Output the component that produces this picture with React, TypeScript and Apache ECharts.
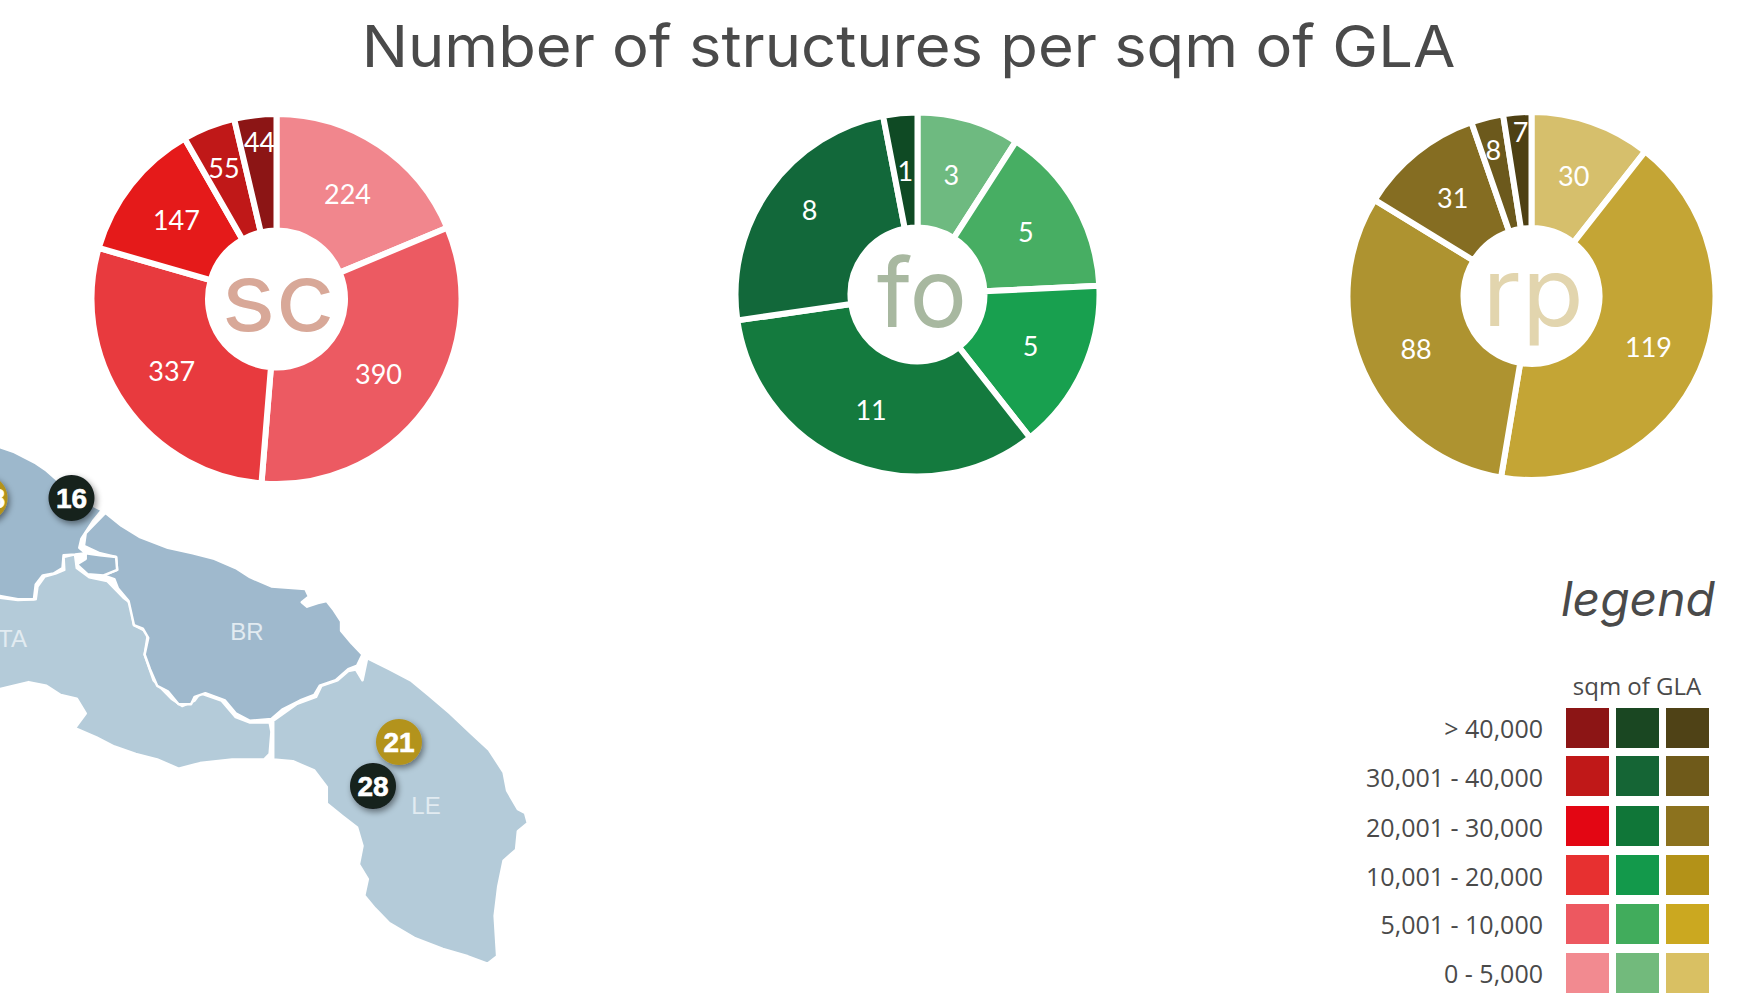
import React, { useEffect, useRef } from "react";
import * as echarts from "echarts";

const titleText = "Number of structures per sqm of GLA";
const scNames = ["0 - 5,000", "5,001 - 10,000", "10,001 - 20,000", "20,001 - 30,000", "30,001 - 40,000", "> 40,000"];
const scValues = [224, 390, 337, 147, 55, 44];
const foValues = [3, 5, 5, 11, 8, 1];
const rpValues = [30, 119, 88, 31, 8, 7];
const scColors = ["#f1868d", "#ec5a62", "#e83a3e", "#e51a1a", "#c01818", "#8c1515"];
const foColors = ["#6eba80", "#47ae63", "#18a04f", "#147a3e", "#12683a", "#0f4a24"];
const rpColors = ["#d6bf6c", "#c4a535", "#ae9330", "#856d22", "#6c591c", "#4e4013"];
const legendRed = ["#8c1515", "#c01818", "#e30613", "#e73030", "#ed5860", "#f28a90"];
const legendGreen = ["#1a4722", "#156535", "#107638", "#13994b", "#41ac5c", "#72ba7c"];
const legendGold = ["#4f4216", "#6f5a1a", "#8c721e", "#b39218", "#cba820", "#d9c063"];
const legendLabels = ["> 40,000", "30,001 - 40,000", "20,001 - 30,000", "10,001 - 20,000", "5,001 - 10,000", "0 - 5,000"];

const scOffsets = [[-1, 2], [-3, -2], [2, -2], [2, 1], [-5, -11], [-2, -29]];
const foOffsets = [[-2, 2], [-2, 1], [-3, -2], [1, -3], [-4, -11], [0, 3]];
const rpOffsets = [[0, 1], [-1, -2], [2, -1], [2, 2], [-7, -21], [-1, -36]];

const BA = [[-5,45],[40,60],[70,75],[100,90],[130,110],[165,140],[200,170],[240,195],[285,218],[262,245],[245,270],[228,295],[222,320],[240,335],[210,338],[178,340],[175,375],[150,390],[120,395],[100,420],[95,460],[50,460],[-5,450]];
const BT = [[240,335],[280,340],[325,345],[328,380],[290,395],[245,392],[215,365],[240,350]];
const BR = [[295,225],[340,260],[390,290],[470,320],[540,335],[600,350],[660,375],[700,400],[760,425],[855,432],[865,452],[845,468],[860,480],[890,470],[915,465],[935,490],[955,520],[955,545],[985,580],[1015,610],[1000,640],[975,650],[940,680],[895,695],[880,720],[840,735],[790,760],[760,785],[700,790],[660,770],[630,735],[575,715],[545,725],[535,745],[500,745],[470,710],[440,695],[420,650],[405,610],[415,565],[400,540],[375,530],[360,465],[330,430],[320,405],[290,395],[328,380],[325,345],[280,335],[235,315],[240,280],[265,255]];
const TA = [[-5,455],[50,462],[100,460],[105,425],[125,398],[155,390],[180,380],[178,345],[210,338],[215,375],[250,400],[300,410],[345,455],[365,470],[375,530],[415,550],[405,610],[430,680],[480,730],[510,750],[545,735],[560,715],[620,735],[660,780],[700,795],[755,795],[760,820],[755,880],[740,895],[650,895],[560,905],[500,920],[440,895],[380,880],[320,860],[270,835],[210,810],[240,770],[215,730],[170,720],[130,695],[80,685],[-5,705]];
const LE = [[1028,620],[1090,650],[1150,680],[1200,720],[1260,770],[1320,825],[1370,870],[1410,930],[1420,980],[1450,1030],[1470,1040],[1478,1068],[1450,1090],[1445,1140],[1410,1170],[1395,1240],[1385,1320],[1392,1430],[1365,1450],[1310,1430],[1240,1410],[1160,1380],[1090,1340],[1050,1300],[1020,1265],[1030,1220],[1005,1180],[1015,1130],[1000,1080],[960,1050],[915,1015],[915,970],[880,925],[820,900],[765,895],[765,790],[830,745],[885,725],[900,695],[945,680],[975,655],[1000,650],[990,640],[1015,680]];

const toPx = (pts: number[][]) => pts.map(([x, y]) => [x / 2.8, 430 + y / 2.717]);

const pie = (name: string, cx: number, cy: number, r0: number, r: number, values: number[], colors: string[], offsets: number[][]) => ({
  type: "pie",
  name,
  silent: true,
  clockwise: true,
  startAngle: 90,
  center: [cx, cy],
  radius: [r0, r],
  avoidLabelOverlap: false,
  labelLine: { show: false },
  itemStyle: { borderColor: "#ffffff", borderWidth: 6 },
  label: { show: true, position: "inside", formatter: "{c}", color: "#ffffff", fontFamily: "Lato", fontSize: 27 },
  data: values.map((v, i) => ({
    value: v,
    name: scNames[i],
    itemStyle: { color: colors[i] },
    label: { offset: offsets[i] },
  })),
});

const txt = (text: string, x: number, y: number, font: any, extra: any = {}) => ({
  type: "text",
  x,
  y,
  z: 6,
  ...extra,
  style: { text, verticalAlign: "middle", ...font },
});

export default function App() {
  const ref = useRef<HTMLDivElement>(null);
  useEffect(() => {
    document.body.style.margin = "0";
    const chart = echarts.init(ref.current!, undefined, { renderer: "svg" });
    const region = (pts: number[][], fill: string) => ({
      type: "polygon",
      shape: { points: toPx(pts) },
      style: { fill, stroke: "#ffffff", lineWidth: 2.5, lineJoin: "round" },
      z: 1,
    });
    const markerFont = "bold 28px 'Liberation Sans'";
    const marker = (cx: number, cy: number, fill: string, label: string, labelX = cx, align = "center") => ({
      type: "group",
      children: [
        { type: "circle", z: 3, shape: { cx, cy, r: 23 }, style: { fill, shadowBlur: 6, shadowColor: "rgba(0,0,0,0.45)", shadowOffsetX: 2, shadowOffsetY: 3 } },
        { type: "text", z: 4, x: labelX, y: cy, style: { text: label, align, verticalAlign: "middle", fill: "#ffffff", stroke: "#ffffff", lineWidth: 0.6, font: markerFont } },
      ],
    });
    const swatches: any[] = [];
    const colXs = [1566, 1616, 1666];
    const rowYs = [708, 756, 806, 855, 904, 953];
    [legendRed, legendGreen, legendGold].forEach((col, c) =>
      col.forEach((fill, r) =>
        swatches.push({ type: "rect", z: 2, shape: { x: colXs[c], y: rowYs[r], width: 43, height: 40 }, style: { fill } })
      )
    );
    const centreFont = "400 96px Inter";
    const mapText = "#e2ebf1";
    chart.setOption({
      animation: false,
      backgroundColor: "#ffffff",
      series: [
        pie("sc", 276.5, 299, 68.5, 185, scValues, scColors, scOffsets),
        pie("fo", 917.5, 294.5, 67, 182, foValues, foColors, foOffsets),
        pie("rp", 1531.5, 296, 68, 184, rpValues, rpColors, rpOffsets),
      ],
      graphic: [
        txt(titleText, 908.5, 46, { align: "center", fill: "#4a4a4a", font: "400 58px Inter" }, { scaleX: 1.06 }),
        region(TA, "#b4cbd9"),
        region(LE, "#b4cbd9"),
        region(BA, "#9db8cc"),
        region(BR, "#9fb9cd"),
        region(BT, "#9db8cc"),
        txt("TA", 27, 638, { align: "right", fill: mapText, font: "24px 'Liberation Sans'" }),
        txt("BR", 247, 631, { align: "center", fill: mapText, font: "24px 'Liberation Sans'" }),
        txt("LE", 426, 805, { align: "center", fill: mapText, font: "24px 'Liberation Sans'" }),
        marker(-15.5, 498, "#b3931f", "8", 5, "right"),
        marker(71.5, 498, "#16201f", "16"),
        marker(399, 742, "#b3931f", "21"),
        marker(373, 786, "#16201f", "28"),
        txt("sc", 278, 296, { align: "center", fill: "#d8a898", font: centreFont }, { scaleX: 1.08 }),
        txt("fo", 922, 292, { align: "center", fill: "#a8b8a0", font: centreFont }),
        txt("rp", 1533, 291, { align: "center", fill: "#e2d5ae", font: centreFont }, { scaleX: 1.05 }),
        txt("legend", 1715, 598, { align: "right", fill: "#4a4a4a", font: "italic 400 48px Inter" }),
        txt("sqm of GLA", 1637, 685, { align: "center", fill: "#4a4a4a", font: "24px 'Open Sans'" }),
        ...legendLabels.map((t, i) => txt(t, 1543, [728, 777, 827, 876, 924, 973][i], { align: "right", fill: "#4a4a4a", font: "25px 'Open Sans'" })),
        ...swatches,
      ],
    });
    return () => chart.dispose();
  }, []);
  return <div ref={ref} style={{ width: 1741, height: 1007 }} />;
}
